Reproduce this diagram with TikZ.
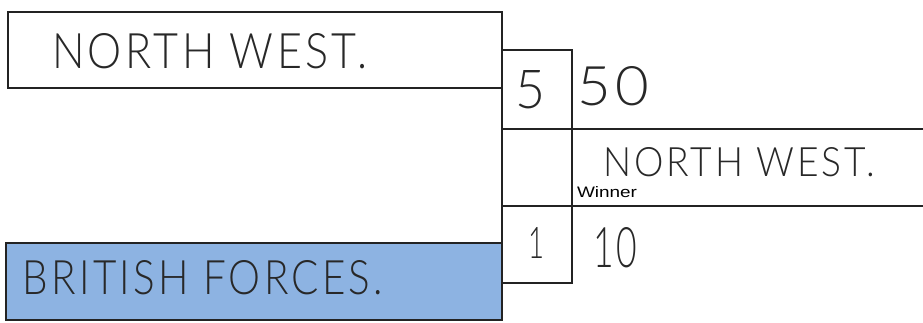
\documentclass[tikz,border=0pt]{standalone}
\usepackage{fontspec}
\usepackage{graphicx}
\newfontfamily\hand{Lato}[UprightFont=* Light, LetterSpace=8]
\newfontfamily\printed{Liberation Sans}
\definecolor{lineblk}{RGB}{35,35,35}
\definecolor{inkgrey}{RGB}{40,40,40}
\definecolor{forceblue}{RGB}{141,179,226}
\newcommand{\hw}[3]{\resizebox{#1pt}{#2pt}{\hand #3}}
\begin{document}
\begin{tikzpicture}[x=1pt,y=-1pt,
  frame/.style={draw=lineblk, line width=2.2pt, inner sep=0pt, outer sep=0pt, anchor=north west},
  rule/.style={draw=lineblk, line width=2.2pt},
  txt/.style={anchor=base west, inner sep=0pt, outer sep=0pt, text=inkgrey}]
\useasboundingbox (0,0) rectangle (923,322);
% team boxes
\node[frame, fill=white, minimum width=494pt, minimum height=76pt] (teamA) at (8,12) {};
\node[frame, fill=forceblue, minimum width=496pt, minimum height=77pt] (teamB) at (6,243) {};
% score column
\node[frame, minimum width=70pt, minimum height=79pt] (scoreA) at (502,50) {};
\node[frame, minimum width=70pt, minimum height=77pt] (mid) at (502,129) {};
\node[frame, minimum width=70pt, minimum height=77pt] (scoreB) at (502,206) {};
% winner lines
\coordinate (endA) at (923,129);
\coordinate (endB) at (923,206);
\draw[rule] (scoreA.south east) -- (endA);
\draw[rule] (mid.south east) -- (endB);
% texts
\node[txt] (tA) at (52,68) {\hw{315}{35}{NORTH WEST.}};
\node[txt] (s5) at (515,108) {\hw{30}{38}{5}};
\node[txt] (g50) at (577,105) {\hw{72}{39}{50}};
\node[txt] (win) at (603,176) {\hw{272}{29}{NORTH WEST.}};
\node[txt, text=black] (wl) at (577,197) {\resizebox{60pt}{11pt}{\printed Winner}};
\node[txt] (s1) at (528,258) {\hw{16}{31}{1}};
\node[txt] (g10) at (593,267) {\hw{44}{40}{10}};
\node[txt] (tB) at (23,294) {\hw{360}{34}{BRITISH FORCES.}};
\end{tikzpicture}
\end{document}
